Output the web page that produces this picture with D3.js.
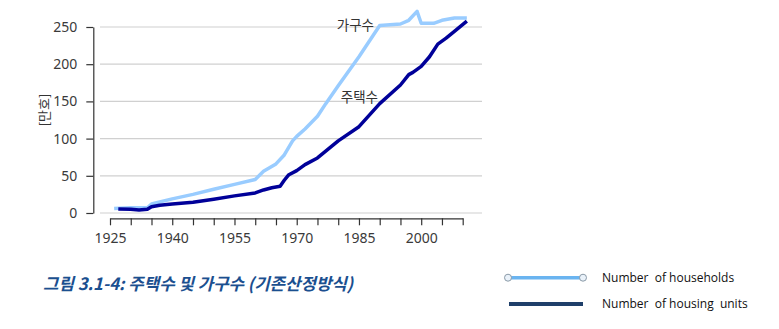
<!DOCTYPE html>
<html><head><meta charset="utf-8">
<script src="https://cdn.jsdelivr.net/npm/d3@7"></script>
<style>
body{margin:0;background:#fff;}
svg{display:block;}
</style></head>
<body>
<svg id="chart" width="779" height="329"></svg>
<script>
// ---- data ----
const householdYears = [1926,1930,1934,1935,1940,1945,1950,1955,1960,1962,1965,1967,1969,1970,1972,1975,1977,1980,1985,1990,1995,1997,1999,2000,2003,2005,2008,2011];
const householdValues = [6,7,7,12,19,25,32,38.5,45,56,66,78,97,103,113,130,147,171,210,252,254,259,271,255,255,259,262,262];
const housingYears = [1927,1930,1932,1934,1935,1937,1940,1945,1950,1955,1960,1962,1964,1966,1967,1968,1970,1972,1975,1980,1985,1990,1995,1997,1998,2000,2002,2004,2006,2008,2011];
const housingValues = [5.5,5,4,5,8.5,10.5,12,14.5,18.5,23,27,31,34,36,44,51,57,65,74,97,116,147,172,186,189,197,210,227,235,244,258];
const yTicks = [0,50,100,150,200,250];
const xTickYears = d3.range(1925, 2011, 5);
const xLabelYears = [1925,1940,1955,1970,1985,2000];
const seriesLabels = ["가구수","주택수"];
const legendLabels = ["Number  of households","Number  of housing  units"];
const yAxisTitle = "[만호]";
const caption = "그림 3.1-4: 주택수 및 가구수 (기존산정방식)";

const svg = d3.select("#chart");
const x = d3.scaleLinear().domain([1925, 2010]).range([110, 462.7]);
const y = d3.scaleLinear().domain([0, 250]).range([213, 27]);
const font = "'Noto Sans', 'Open Sans', sans-serif";

// gridlines
svg.append("g").selectAll("line").data(yTicks).join("line")
  .attr("x1", 100).attr("x2", 482)
  .attr("y1", d => y(d)).attr("y2", d => y(d))
  .attr("stroke", "#d0d0d0").attr("stroke-width", 1.2);

// y axis
const yAxis = svg.append("g").attr("transform", "translate(93.3,0)")
  .call(d3.axisLeft(y).tickValues(yTicks).tickSize(7).tickSizeOuter(0).tickPadding(9));
yAxis.select(".domain").attr("stroke", "#333").attr("stroke-width", 1.2);
yAxis.selectAll(".tick line").attr("stroke", "#333").attr("stroke-width", 1.2);
yAxis.selectAll("text").attr("font-family", font).attr("font-size", 14).attr("fill", "#3a3a3a");

// x axis
const xAxis = svg.append("g").attr("transform", "translate(0,218.3)")
  .call(d3.axisBottom(x).tickValues(xTickYears).tickSize(7).tickSizeOuter(0)
    .tickFormat(d => xLabelYears.includes(d) ? d : ""));
xAxis.select(".domain").attr("stroke", "#333").attr("stroke-width", 1.2);
xAxis.selectAll(".tick line").attr("stroke", "#333").attr("stroke-width", 1.2);
xAxis.selectAll("text").attr("font-family", font).attr("font-size", 14).attr("fill", "#3a3a3a")
  .attr("y", 15);

// y axis title
svg.append("text").attr("transform", "translate(49,110) rotate(-90)")
  .attr("text-anchor", "middle").attr("font-family", "'Noto Sans CJK KR', sans-serif")
  .attr("font-size", 13).attr("fill", "#333").text(yAxisTitle);

// lines
const line = d3.line().x(d => x(d[0])).y(d => y(d[1]));
const hh = householdYears.map((yr, i) => [yr, householdValues[i]]);
const hu = housingYears.map((yr, i) => [yr, housingValues[i]]);
svg.append("path").datum(hh).attr("d", line).attr("fill", "none")
  .attr("stroke", "#99ccff").attr("stroke-width", 3.5).attr("stroke-linejoin", "round");
svg.append("path").datum(hu).attr("d", line).attr("fill", "none")
  .attr("stroke", "#000099").attr("stroke-width", 3.5).attr("stroke-linejoin", "round");

// series labels
svg.append("text").attr("x", 374).attr("y", 30).attr("text-anchor", "end")
  .attr("font-family", "'Noto Sans CJK KR', sans-serif").attr("font-size", 13.5)
  .attr("fill", "#333").text(seriesLabels[0]);
svg.append("text").attr("x", 378).attr("y", 102).attr("text-anchor", "end")
  .attr("font-family", "'Noto Sans CJK KR', sans-serif").attr("font-size", 13.5)
  .attr("fill", "#333").text(seriesLabels[1]);

// caption
svg.append("text").attr("x", 43).attr("y", 289.5)
  .attr("font-family", "'Noto Sans CJK KR', sans-serif").attr("font-size", 16.8)
  .attr("font-weight", "bold").attr("font-style", "italic")
  .attr("fill", "#1b4f8f").text(caption);

// legend
const lg = svg.append("g");
lg.append("line").attr("x1", 508).attr("x2", 583).attr("y1", 277.7).attr("y2", 277.7)
  .attr("stroke", "#6ab4f0").attr("stroke-width", 3.5);
[508, 583].forEach(cx => lg.append("circle").attr("cx", cx).attr("cy", 277.7).attr("r", 3.5)
  .attr("fill", "#eaf2fa").attr("stroke", "#8a9aa8").attr("stroke-width", 1));
lg.append("line").attr("x1", 509).attr("x2", 583).attr("y1", 304).attr("y2", 304)
  .attr("stroke", "#1f3f6a").attr("stroke-width", 4);
lg.selectAll("text.lg").data(legendLabels).join("text").attr("class", "lg")
  .attr("x", 602).attr("y", (d, i) => 281.5 + i * 26)
  .attr("font-family", "'Open Sans', sans-serif").attr("font-size", 12)
  .attr("fill", "#111").style("white-space", "pre").text(d => d);
</script>
</body></html>
